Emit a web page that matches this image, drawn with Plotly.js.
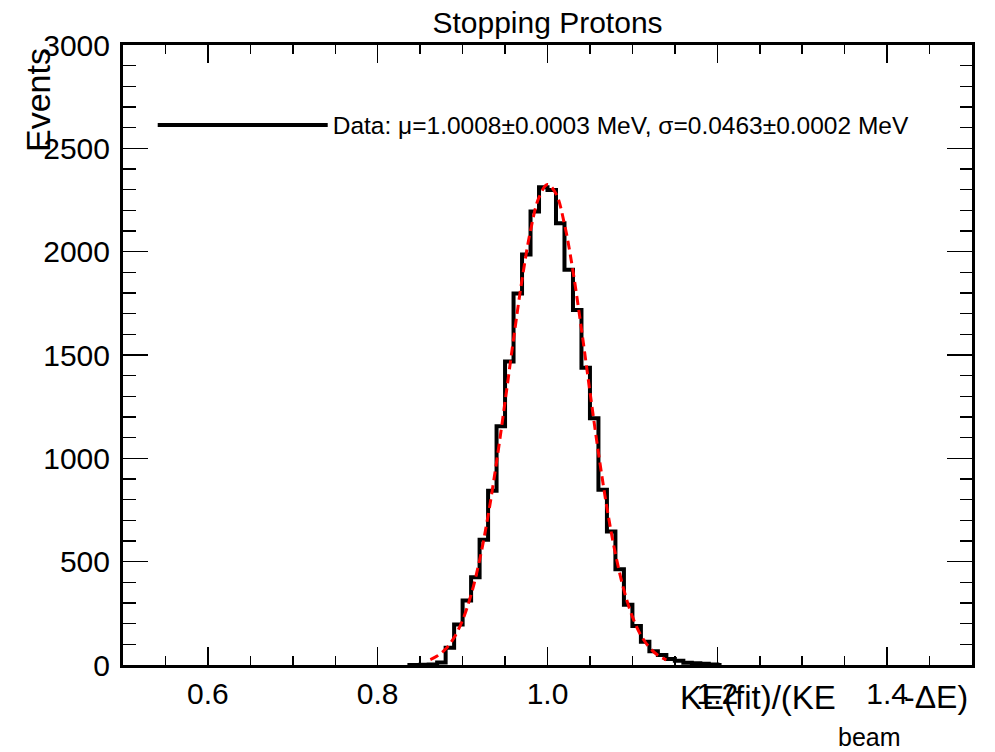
<!DOCTYPE html>
<html>
<head>
<meta charset="utf-8">
<script src="https://cdn.plot.ly/plotly-3.0.1.min.js"></script>
<style>html,body{margin:0;padding:0;background:#fff;}#chart{width:995px;height:752px;}</style>
</head>
<body>
<div id="chart"></div>
<script>
// Histogram bin centres (bin width 0.01) and event counts
const binCenters = [0.835, 0.845, 0.855, 0.865, 0.875, 0.885, 0.895, 0.905, 0.915, 0.925,
  0.935, 0.945, 0.955, 0.965, 0.975, 0.985, 0.995, 1.005, 1.015, 1.025,
  1.035, 1.045, 1.055, 1.065, 1.075, 1.085, 1.095, 1.105, 1.115, 1.125,
  1.135, 1.145, 1.155, 1.165, 1.175, 1.185, 1.195, 1.205];
const counts = [0, 0, 1, 3, 12, 84, 196, 312, 424, 606,
  843, 1155, 1468, 1798, 1986, 2194, 2312, 2298, 2138, 1912,
  1718, 1438, 1194, 848, 646, 463, 292, 189, 113, 66,
  48, 29, 20, 11, 8, 6, 2, 0];

// Gaussian fit curve
const fitX = [0.862, 0.87, 0.88, 0.89, 0.90, 0.91, 0.92, 0.93, 0.94, 0.95,
  0.96, 0.97, 0.98, 0.99, 1.00, 1.01, 1.02, 1.03, 1.04, 1.05,
  1.06, 1.07, 1.08, 1.09, 1.10, 1.11, 1.12, 1.13, 1.14];
const fitY = [26, 43, 77, 133, 217, 340, 507, 722, 982, 1273,
  1577, 1864, 2102, 2263, 2325, 2280, 2133, 1906, 1625, 1322,
  1027, 761, 538, 363, 234, 144, 85, 47, 25];

const legendLabel = "Data: μ=1.0008±0.0003 MeV, σ=0.0463±0.0002 MeV";
const chartTitle = "Stopping Protons";
const xTitleMain = "KE(fit)/(KE";
const xTitleSub = "beam";
const xTitleEnd = "-ΔE)";
const yTitle = "Events";

const FONT = "Liberation Sans, Arial, Helvetica, sans-serif";

const traces = [
  {
    x: binCenters, y: counts, type: 'scatter', mode: 'lines',
    line: {shape: 'hvh', color: 'black', width: 4},
    name: legendLabel, showlegend: true, hoverinfo: 'skip'
  },
  {
    x: fitX, y: fitY, type: 'scatter', mode: 'lines',
    line: {shape: 'spline', color: '#ff0000', width: 3, dash: '9px,5px'},
    showlegend: false, hoverinfo: 'skip'
  }
];

const axisCommon = {
  showline: true, linecolor: 'black', linewidth: 3, mirror: 'allticks',
  ticks: 'inside', tickcolor: 'black', tickwidth: 1.5,
  showgrid: false, zeroline: false,
  tickfont: {family: FONT, size: 30, color: 'black'}
};

const layout = {
  width: 995, height: 752,
  paper_bgcolor: 'white', plot_bgcolor: 'white',
  margin: {l: 123, r: 23, t: 45, b: 87},
  font: {family: FONT, color: 'black'},
  title: {text: chartTitle, font: {family: FONT, size: 30, color: 'black'},
    x: 0.5, xref: 'paper', xanchor: 'center', y: 0.9707, yref: 'container', yanchor: 'middle'},
  xaxis: Object.assign({}, axisCommon, {
    range: [0.5, 1.5], tick0: 0.2, dtick: 0.2, ticklen: 18, tickformat: '.1f',
    ticklabelstandoff: 0,
    minor: {dtick: 0.05, tick0: 0.5, ticklen: 9, ticks: 'inside', tickcolor: 'black', tickwidth: 1.5, showgrid: false}
  }),
  yaxis: Object.assign({}, axisCommon, {
    range: [0, 3000], tick0: 0, dtick: 500, ticklen: 25,
    ticklabelstandoff: 4,
    minor: {dtick: 100, tick0: 0, ticklen: 12.5, ticks: 'inside', tickcolor: 'black', tickwidth: 1.5, showgrid: false}
  }),
  showlegend: true,
  legend: {
    x: 0.035, y: 0.871, xanchor: 'left', yanchor: 'middle',
    bgcolor: 'rgba(0,0,0,0)', borderwidth: 0,
    font: {family: FONT, size: 24.5, color: 'black'},
    itemwidth: 170
  },
  annotations: [
    {text: xTitleEnd, xref: 'paper', yref: 'paper', x: (970 - 123) / 849, y: (665 - 697) / 620,
      xanchor: 'right', yanchor: 'middle', showarrow: false, font: {family: FONT, size: 32, color: 'black'}},
    {text: xTitleSub, xref: 'paper', yref: 'paper', x: (903 - 123) / 849, y: (665 - 737) / 620,
      xanchor: 'right', yanchor: 'middle', showarrow: false, font: {family: FONT, size: 25, color: 'black'}},
    {text: xTitleMain, xref: 'paper', yref: 'paper', x: (838 - 123) / 849, y: (665 - 697) / 620,
      xanchor: 'right', yanchor: 'middle', showarrow: false, font: {family: FONT, size: 33, color: 'black'}},
    {text: yTitle, xref: 'paper', yref: 'paper', x: (38 - 123) / 849, y: (665 - 46) / 620,
      xanchor: 'center', yanchor: 'top', textangle: -90, showarrow: false, font: {family: FONT, size: 34, color: 'black'}}
  ]
};

Plotly.newPlot('chart', traces, layout, {displayModeBar: false, staticPlot: true});
</script>
</body>
</html>
